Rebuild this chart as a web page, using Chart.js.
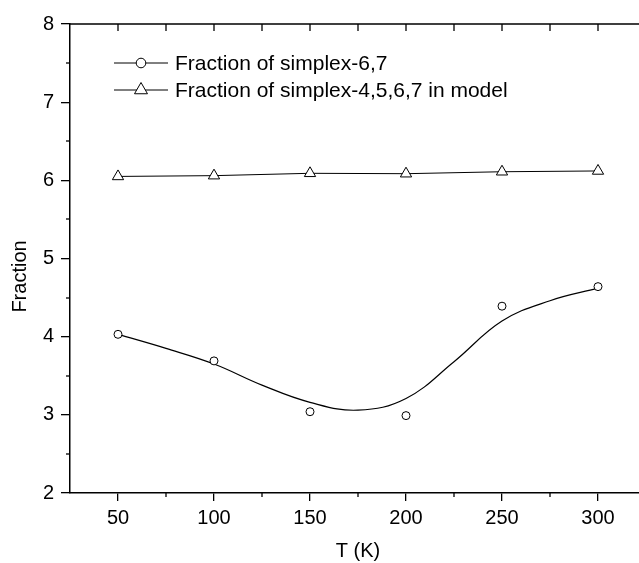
<!DOCTYPE html>
<html><head><meta charset="utf-8">
<script src="https://cdn.jsdelivr.net/npm/chart.js@4/dist/chart.umd.min.js"></script>
<style>
html,body{margin:0;padding:0;overflow:hidden;background:#fff;width:639px;height:563px}
#wrap{position:absolute;left:0;top:0;width:660px;height:563px}
</style>
</head><body><div id="wrap"><canvas id="c" width="660" height="563"></canvas></div>
<script>
const temperatures = [50, 100, 150, 200, 250, 300];
const simplex67 = [4.03, 3.69, 3.04, 2.99, 4.39, 4.64];
const simplex4567 = [6.05, 6.06, 6.09, 6.085, 6.11, 6.12];
const fitT = [50, 75, 100, 125, 150, 175, 200, 225, 250, 275, 300];
const fit67 = [4.03, 3.85, 3.65, 3.38, 3.16, 3.06, 3.21, 3.68, 4.20, 4.46, 4.62];
const xTicks = [50, 100, 150, 200, 250, 300];
const xMinorTicks = [75, 125, 175, 225, 275];
const yTicks = [2, 3, 4, 5, 6, 7, 8];
const yMinorTicks = [2.5, 3.5, 4.5, 5.5, 6.5, 7.5];
const legendLabels = ['Fraction of simplex-6,7', 'Fraction of simplex-4,5,6,7 in model'];
const xTitle = 'T (K)';
const yTitle = 'Fraction';

const FONT = '"Liberation Sans", Arial, sans-serif';
const pts = (xs, ys) => xs.map((v, i) => ({x: v, y: ys[i]}));

function marker(ctx, style, r, cx, cy) {
  ctx.beginPath();
  if (style === 'circle') {
    ctx.arc(cx, cy, r, 0, Math.PI * 2);
  } else {
    let rad = 0;
    ctx.moveTo(cx + Math.sin(rad) * r, cy - Math.cos(rad) * r);
    rad += 2 * Math.PI / 3;
    ctx.lineTo(cx + Math.sin(rad) * r, cy - Math.cos(rad) * r);
    rad += 2 * Math.PI / 3;
    ctx.lineTo(cx + Math.sin(rad) * r, cy - Math.cos(rad) * r);
    ctx.closePath();
  }
  ctx.fillStyle = '#fff';
  ctx.fill();
  ctx.stroke();
}

const decor = {
  id: 'decor',
  afterDraw(chart) {
    const {ctx, chartArea: a, scales: {x, y}} = chart;
    ctx.save();
    ctx.strokeStyle = '#000';
    ctx.lineWidth = 1.5;
    ctx.beginPath();
    ctx.moveTo(a.left, a.top); ctx.lineTo(a.right, a.top); ctx.lineTo(a.right, a.bottom);
    ctx.stroke();
    ctx.lineWidth = 1.3;
    const seg = (x1, y1, x2, y2) => { ctx.beginPath(); ctx.moveTo(x1, y1); ctx.lineTo(x2, y2); ctx.stroke(); };
    xMinorTicks.forEach(v => { const p = Math.round(x.getPixelForValue(v)); seg(p, a.bottom, p, a.bottom + 4); });
    [...xTicks, ...xMinorTicks].forEach(v => { const p = Math.round(x.getPixelForValue(v)); seg(p, a.top, p, a.top + 7); });
    yMinorTicks.forEach(v => { const p = Math.round(y.getPixelForValue(v)); seg(a.left - 4, p, a.left, p); });
    [...yTicks, ...yMinorTicks].forEach(v => { const p = Math.round(y.getPixelForValue(v)); seg(a.right - 7, p, a.right, p); });

    // y axis title
    ctx.save();
    ctx.translate(20, (a.top + a.bottom) / 2 + 18);
    ctx.rotate(-Math.PI / 2);
    ctx.fillStyle = '#000';
    ctx.font = '20px ' + FONT;
    ctx.textAlign = 'center';
    ctx.textBaseline = 'middle';
    ctx.fillText(yTitle, 0, 0);
    ctx.restore();

    // legend
    const items = [chart.data.datasets[1], chart.data.datasets[2]];
    const rows = [63, 90];
    ctx.font = '21px ' + FONT;
    ctx.textAlign = 'left';
    ctx.textBaseline = 'middle';
    items.forEach((ds, i) => {
      const yy = rows[i];
      ctx.strokeStyle = '#000';
      ctx.lineWidth = 1;
      seg(114, yy, 168, yy);
      marker(ctx, ds.pointStyle, ds.pointStyle === 'circle' ? 4.8 : 7.5, 141, yy);
      ctx.fillStyle = '#000';
      ctx.fillText(ds.label, 175, yy + 1);
    });
    ctx.restore();
  }
};

new Chart(document.getElementById('c'), {
  type: 'line',
  data: {
    datasets: [
      {
        label: 'fit',
        data: pts(fitT, fit67),
        borderColor: '#000', borderWidth: 1.2,
        pointRadius: 0, tension: 0.4, fill: false, order: 3
      },
      {
        label: legendLabels[0],
        data: pts(temperatures, simplex67),
        showLine: false,
        pointStyle: 'circle', pointRadius: 4, pointBorderWidth: 1,
        pointBackgroundColor: '#fff', pointBorderColor: '#000',
        borderColor: '#000', order: 1
      },
      {
        label: legendLabels[1],
        data: pts(temperatures, simplex4567),
        showLine: true, tension: 0,
        borderColor: '#000', borderWidth: 1,
        pointStyle: 'triangle', pointRadius: 6.5, pointBorderWidth: 1,
        pointBackgroundColor: '#fff', pointBorderColor: '#000', order: 2
      }
    ]
  },
  options: {
    responsive: false,
    animation: false,
    devicePixelRatio: 1,
    layout: {padding: {top: 24, right: 14, left: 0, bottom: 0}},
    plugins: {legend: {display: false}, tooltip: {enabled: false}},
    scales: {
      x: {
        type: 'linear', min: 25, max: 325,
        afterBuildTicks: s => { s.ticks = xTicks.map(v => ({value: v})); },
        afterFit: s => { s.height = 70; },
        ticks: {color: '#000', font: {family: FONT, size: 20}, padding: 5, maxRotation: 0, autoSkip: false},
        grid: {display: true, drawOnChartArea: false, drawTicks: true, tickLength: 8, color: '#000', lineWidth: 1.3},
        border: {display: true, color: '#000', width: 1.5},
        title: {display: true, text: xTitle, color: '#000', font: {family: FONT, size: 20}, padding: {top: 0, bottom: 0}}
      },
      y: {
        type: 'linear', min: 2, max: 8,
        afterBuildTicks: s => { s.ticks = yTicks.map(v => ({value: v})); },
        afterFit: s => { s.width = 70; },
        ticks: {color: '#000', font: {family: FONT, size: 20}, padding: 7},
        grid: {display: true, drawOnChartArea: false, drawTicks: true, tickLength: 9, color: '#000', lineWidth: 1.3},
        border: {display: true, color: '#000', width: 1.5}
      }
    }
  },
  plugins: [decor]
});
</script>
</body></html>
